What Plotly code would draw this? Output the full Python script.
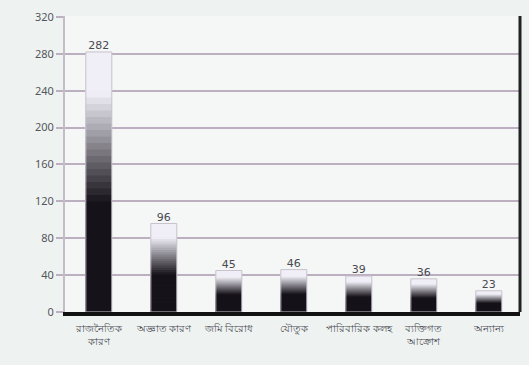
import plotly.graph_objects as go

categories = ["রাজনৈতিক<br>কারণ", "অজ্ঞাত কারণ", "জমি বিরোধ", "যৌতুক",
              "পারিবারিক কলহ", "ব্যক্তিগত<br>আক্রোশ", "অন্যান্য"]
values = [282, 96, 45, 46, 39, 36, 23]
y_ticks = [0, 40, 80, 120, 160, 200, 240, 280, 320]

N = 40  # gradient slices


def shade(f):
    # f: 0 at bottom, 1 at top
    lo, hi = 0.42, 0.84
    if f < lo:
        t = 0.0
    elif f > hi:
        t = 1.0
    else:
        t = (f - lo) / (hi - lo)
    r = int(22 + t * (240 - 22))
    g = int(18 + t * (238 - 18))
    b = int(26 + t * (246 - 26))
    return f"rgb({r},{g},{b})"


xs = list(range(len(categories)))
fig = go.Figure()
# draw from the full-height (lightest top) down to the shortest (darkest)
for k in range(N):
    frac = (N - k) / N
    fig.add_trace(go.Bar(
        x=xs, y=[v * frac for v in values],
        marker=dict(color=shade(frac - 0.5 / N), line=dict(width=0)),
        width=0.4, hoverinfo="skip", showlegend=False,
    ))

# bar outline
fig.add_trace(go.Bar(
    x=xs, y=values,
    marker=dict(color="rgba(0,0,0,0)", line=dict(width=1, color="#c8c2cc")),
    width=0.4, hoverinfo="skip", showlegend=False,
))

fig.add_trace(go.Scatter(
    x=xs, y=values, mode="text", text=[str(v) for v in values],
    textposition="top center",
    textfont=dict(family="DejaVu Sans, Noto Sans", size=11, color="#4a4a52"),
    showlegend=False, hoverinfo="skip",
))

fig.update_layout(
    width=529, height=365,
    barmode="overlay", bargap=0.6,
    paper_bgcolor="#eef3f1", plot_bgcolor="#f4f7f5",
    margin=dict(l=65, r=9, t=16, b=53),
    font=dict(family="Noto Sans, DejaVu Sans", size=10, color="#4a4a52"),
    xaxis=dict(
        range=[-0.52, 6.48], tickmode="array", tickvals=xs, ticktext=categories,
        showgrid=False, zeroline=False, showline=True, linecolor="#111",
        linewidth=4, ticks="", tickfont=dict(size=10, color="#4a4a52"),
        ticklabelstandoff=4,
    ),
    yaxis=dict(
        range=[0, 321], tickmode="array", tickvals=y_ticks,
        ticktext=[str(t) for t in y_ticks],
        showgrid=True, gridcolor="#bcb0c0", gridwidth=2,
        zeroline=False, showline=True, linecolor="#c4bcc6", linewidth=2,
        ticks="outside", ticklen=7, tickcolor="#bcb0c0", tickwidth=2,
        tickfont=dict(size=11, color="#55555c"),
    ),
    shapes=[dict(type="line", xref="paper", yref="paper", x0=1, x1=1,
                 y0=0, y1=1, line=dict(color="#222", width=3))],
)

fig.write_html("out.html")
